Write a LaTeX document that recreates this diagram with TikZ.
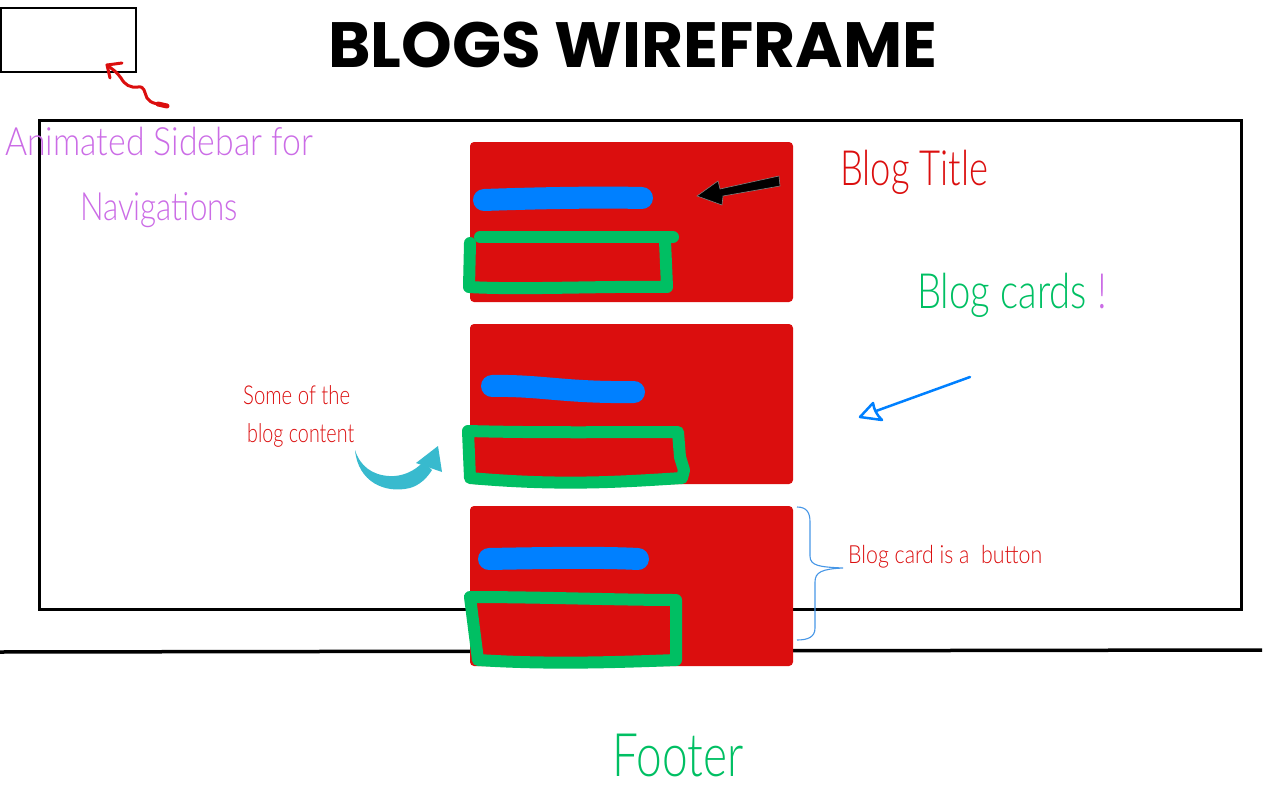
\documentclass[tikz,border=0pt]{standalone}
\usepackage{fontspec}
\usepackage{graphicx}
\setmainfont{Lato Light}
\newfontfamily\titlefont{Poppins}
\definecolor{cardred}{RGB}{219,14,14}
\definecolor{barblue}{RGB}{0,128,255}
\definecolor{boxgreen}{RGB}{0,191,99}
\definecolor{lilac}{RGB}{203,108,230}
\definecolor{teal}{RGB}{56,186,206}
\definecolor{braceblue}{RGB}{70,150,230}
% text squeezed to a given width at a given size: {width}{size}{text}
\newcommand\handtxt[3]{\resizebox{#1pt}{\height}{\fontsize{#2}{#2}\selectfont #3}}
\tikzset{
  hand/.style={inner sep=0pt, anchor=base west},
  card/.style={fill=cardred, rounded corners=4pt},
  titlebar/.style={draw=barblue, line width=22pt, line cap=round},
  contentbox/.style={draw=boxgreen, line width=12pt, line cap=round, line join=round},
  frameline/.style={draw=black, line width=3pt},
}
\begin{document}
\begin{tikzpicture}[x=1pt, y=-1pt]
\useasboundingbox (0,0) rectangle (1280,800);

% sidebar toggle box and page frame
\draw[line width=1.5pt] (1,8) rectangle (136,72);
\coordinate (sbtip) at (107,65);
\coordinate (sbtail) at (167,106);
\draw[frameline] (39,120) rectangle (1241,609);
\coordinate (footL) at (0,652);
\coordinate (footR) at (1262,650);
\draw[line width=3.5pt] (footL) -- (footR);

% title
\node[hand] (title) at (328,67)
  {\resizebox{609pt}{\height}{\titlefont\bfseries\fontsize{64}{64}\selectfont BLOGS WIREFRAME}};

% blog cards
\path[card] (470,142) rectangle (793,302);
\node[inner sep=0pt, minimum width=323pt, minimum height=160pt] (card1) at (631.5,222) {};
\path[card] (470,324) rectangle (793,484);
\node[inner sep=0pt, minimum width=323pt, minimum height=160pt] (card2) at (631.5,404) {};
\path[card] (470,506) rectangle (793,666);
\node[inner sep=0pt, minimum width=323pt, minimum height=160pt] (card3) at (631.5,586) {};

% title bars
\draw[titlebar] (484,200) .. controls (540,198) and (600,197) .. (642,198);
\draw[titlebar] (492,386) .. controls (540,385) and (565,393) .. (634,392);
\draw[titlebar] (489,559) .. controls (540,558) and (600,557) .. (638,559);

% content boxes
\draw[contentbox] (673,237) -- (480,237);
\draw[contentbox] (470,243) -- (469,287) .. controls (520,290) and (600,286) .. (667,287) -- (665,241);
\draw[contentbox] (468,431) .. controls (540,433) and (620,432) .. (678,432) -- (680,457) -- (684,470) -- (682,478)
  .. controls (620,482) and (560,486) .. (470,478) -- cycle;
\draw[contentbox] (470,597) .. controls (540,597) and (620,600) .. (676,600) -- (676,660)
  .. controls (600,663) and (540,664) .. (478,660) -- cycle;

% arrow to the title bar
\coordinate (bkTip) at (697,196);
\fill[black, draw=gray, line width=0.6pt] (bkTip) -- (718,181) -- (720,189) -- (779,176) -- (780,186)
  -- (723,196) -- (722,205) -- cycle;

% labels
\node[hand, text=cardred] (lbtitle) at (840,185) {\handtxt{148}{48.6}{Blog Title}};
\node[hand, text=boxgreen] (lbcards) at (917,308) {\handtxt{190}{48.6}{Blog cards \textcolor{lilac}{!}}};
\node[hand, text=lilac] (lbside1) at (5,155) {\handtxt{308}{39}{Animated Sidebar for}};
\node[hand, text=lilac] (lbside2) at (80,220) {\handtxt{158}{39}{Navigations}};
\node[hand, text=cardred] (lbsome1) at (243,404) {\handtxt{107}{26}{Some of the}};
\node[hand, text=cardred] (lbsome2) at (247,442) {\handtxt{107}{26}{blog content}};
\node[hand, text=cardred] (lbbutton) at (848,563) {\handtxt{194}{25}{Blog card is a~ button}};
\node[hand, text=boxgreen] (lbfooter) at (612,776) {\handtxt{131}{60}{Footer}};

% squiggly arrow to the sidebar box, heavier at its tail
\draw[cardred, line width=3pt, line cap=round, line join=round]
  (sbtail) .. controls (160,104) and (150,104) .. (147,98)
  .. controls (144,92) and (145,86) .. (138,87)
  .. controls (130,88) and (125,85) .. (121,78)
  .. controls (117,72) and (112,69) .. (sbtip);
\draw[cardred, line width=5pt, line cap=round] (sbtail) -- (158,104);
\draw[cardred, line width=3pt, line cap=round, line join=round]
  (110,78) -- (sbtip) -- (122,63);

% blue arrow pointing at the cards
\coordinate (blTail) at (970,377);
\coordinate (blTip) at (860,417);
\draw[barblue, line width=2.5pt, line cap=round] (blTail) -- (876,411);
\draw[barblue, line width=2.5pt, line join=round]
  (blTip) -- (873,403) .. controls (874,410) and (877,415) .. (882,420) -- cycle;

% curved arrow into the content box
\fill[teal] (355,450) .. controls (358,482) and (385,494) .. (410,488)
  .. controls (420,485) and (427,478) .. (432,470) -- (423,462)
  .. controls (415,471) and (402,477) .. (389,476)
  .. controls (372,475) and (360,466) .. (355,450) -- cycle;
\fill[teal] (416,463) -- (438,446) -- (442,472) -- cycle;

% brace beside the last card
\draw[braceblue, line width=1.1pt]
  (797,507) .. controls (807,507) and (810,513) .. (810,522) -- (810,556)
  .. controls (810,566) and (820,567) .. (843,568)
  .. controls (822,569) and (815,572) .. (815,582) -- (815,628)
  .. controls (815,637) and (808,640) .. (797,640);
\end{tikzpicture}
\end{document}
